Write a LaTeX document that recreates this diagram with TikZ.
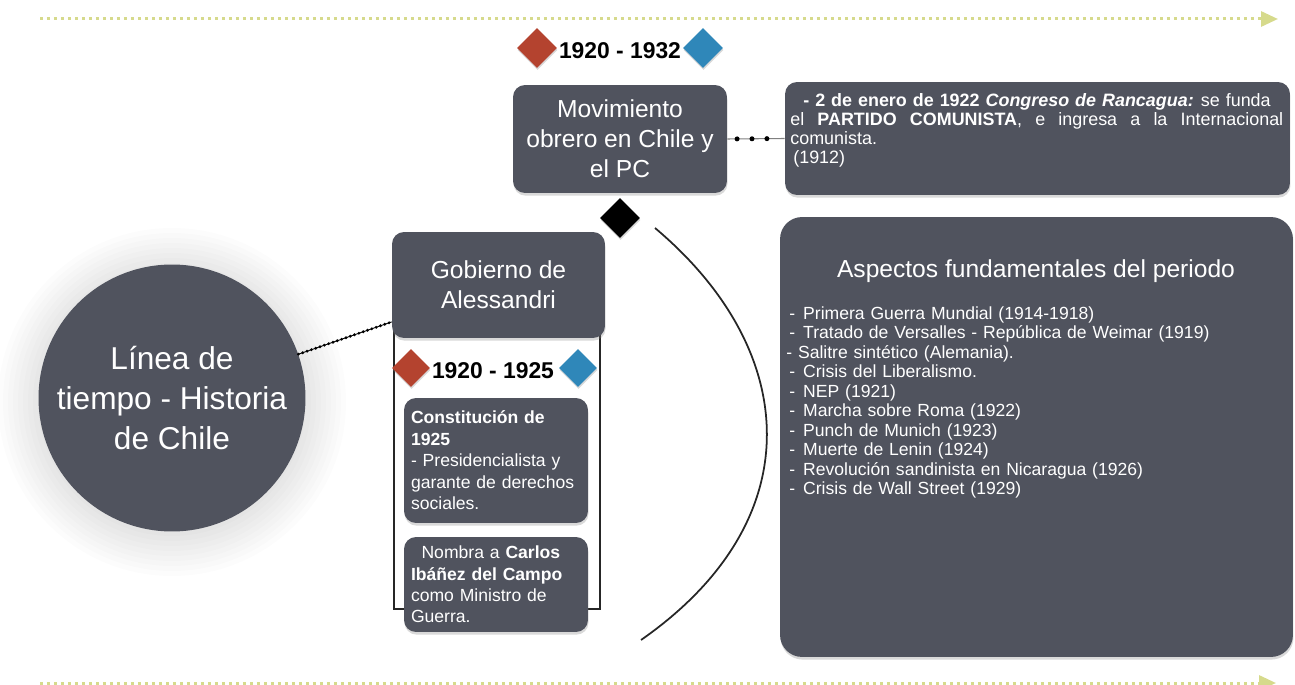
\documentclass[tikz,border=0pt]{standalone}
\usepackage{fontspec}
\setmainfont{Liberation Sans}
\usetikzlibrary{shapes.geometric,arrows.meta,shadows}

\definecolor{slate}{RGB}{80,83,94}
\definecolor{rustred}{RGB}{180,67,47}
\definecolor{steelblue}{RGB}{47,135,185}
\definecolor{olivedot}{RGB}{214,218,140}

\newcommand{\aspitem}[1]{\makebox[9.6pt][l]{\hspace{1.7pt}-}#1}

\tikzset{
  darkbox/.style={fill=slate, rounded corners=0.24cm, text=white,
    drop shadow={shadow xshift=0.3pt, shadow yshift=-1.5pt, opacity=0.3}},
  gem/.style={diamond, minimum size=0.8cm, inner sep=0pt,
    drop shadow={shadow xshift=0.3pt, shadow yshift=-1.2pt, opacity=0.3}},
  yearlabel/.style={font=\fontsize{13}{15}\selectfont\bfseries},
  timeline/.style={olivedot, line width=0.06cm, dash pattern=on 0.06cm off 0.08cm,
    -{Triangle[length=0.34cm,width=0.3cm]}},
  dotmark/.style={circle, fill=black, inner sep=0pt, minimum size=0.1cm},
  beadline/.style={line width=0.5pt,
    postaction={draw, line width=1.8pt, line cap=round, dash pattern=on 0pt off 2.6pt}},
}

\begin{document}
\begin{tikzpicture}[x=0.02cm, y=-0.02cm]
  \useasboundingbox (0,0) rectangle (1295,685);
  % soft glow round the circle
  \foreach \k in {1,...,9} {
    \pgfmathsetmacro\gr{(129+5*\k)*0.02}
    \fill[black, opacity=0.01] (172,402) circle[radius=\gr cm];
  }
  % timelines
  \coordinate (topStart) at (40,19);
  \coordinate (topEnd)   at (1278,19);
  \coordinate (botStart) at (40,683);
  \coordinate (botEnd)   at (1276,683);
  \draw[timeline] (topStart) -- (topEnd);
  \draw[timeline] (botStart) -- (botEnd);
  % frame behind the Alessandri boxes
  \draw[black!85, line width=0.8pt] (394,300) rectangle (600,609);

  \node[circle, fill=slate, minimum size=5.16cm, text=white, align=center,
        font=\fontsize{18}{22.7}\selectfont] (hist) at (172,398)
        {Línea de\\tiempo - Historia\\de Chile};

  % 1920 - 1932
  \node[gem, fill=rustred]   (red1)  at (537,48) {};
  \node[gem, fill=steelblue] (blue1) at (703,48) {};
  \node[yearlabel] (year1) at (620,51) {1920 - 1932};
  \node[darkbox, minimum width=4.28cm, minimum height=2.16cm, align=center,
        font=\fontsize{14}{17}\selectfont] (mov) at (620,139)
        {Movimiento\\obrero en Chile y\\el PC};
  \node[darkbox, minimum width=10.1cm, minimum height=2.26cm] (ev) at (1037.5,138.5) {};
  \node[anchor=north west, inner sep=0pt, text width=9.86cm, align=left, text=white,
        font=\fontsize{10.2}{10.8}\selectfont] (evtext) at (790,93)
        {\hspace*{7.4pt}\textbf{- 2 de enero de 1922 \textit{Congreso de Rancagua:}}\hspace{-1pt} se funda\\
         \makebox[9.86cm][l]{el\hfill\textbf{PARTIDO}\hfill\textbf{COMUNISTA},\hfill e\hfill ingresa\hfill a\hfill la\hfill Internacional}\\
         comunista.\\
         \hspace*{1.7pt}(1912)};
  \node[gem, fill=black] (joint) at (620,218) {};

  % Alessandri
  \node[darkbox, minimum width=4.26cm, minimum height=2.12cm, align=center,
        font=\fontsize{14}{17}\selectfont] (gob) at (498.5,285)
        {Gobierno de\\Alessandri};
  \node[gem, minimum size=0.76cm, fill=rustred]   (red2)  at (411,368) {};
  \node[gem, minimum size=0.76cm, fill=steelblue] (blue2) at (578,368) {};
  \node[yearlabel] (year2) at (493,371) {1920 - 1925};
  \node[darkbox, minimum width=3.68cm, minimum height=2.5cm, inner xsep=0.14cm,
        text width=3.4cm, align=left, font=\fontsize{10}{12.2}\selectfont] (const) at (496,460.5)
        {\textbf{Constitución de}\\\textbf{1925}\\- Presidencialista y\\garante de derechos\\sociales.};
  \node[darkbox, minimum width=3.68cm, minimum height=1.9cm, inner xsep=0.14cm,
        text width=3.4cm, align=left, font=\fontsize{10}{12.2}\selectfont] (nom) at (496,584.5)
        {\hspace*{6pt}Nombra a \textbf{Carlos}\\\textbf{Ibáñez del Campo}\\como Ministro de\\Guerra.};

  % aspectos
  \node[darkbox, rounded corners=0.44cm, minimum width=10.26cm, minimum height=8.8cm] (asp) at (1036.5,437) {};
  \node[text=white, font=\fontsize{14}{17}\selectfont] (asptitle) at (1036,271)
        {Aspectos fundamentales del periodo};
  \node[anchor=north west, inner sep=0pt, text width=9.8cm, align=left, text=white,
        font=\fontsize{10}{11.1}\selectfont] (asplist) at (786,306)
        {\aspitem{Primera Guerra Mundial (1914-1918)}\\
         \aspitem{Tratado de Versalles - República de Weimar (1919)}\\
         - Salitre sintético (Alemania).\\
         \aspitem{Crisis del Liberalismo.}\\
         \aspitem{NEP (1921)}\\
         \aspitem{Marcha sobre Roma (1922)}\\
         \aspitem{Punch de Munich (1923)}\\
         \aspitem{Muerte de Lenin (1924)}\\
         \aspitem{Revolución sandinista en Nicaragua (1926)}\\
         \aspitem{Crisis de Wall Street (1929)}};

  % connectors
  \draw[gray, line width=0.6pt] (mov.east) -- (ev.west)
        node[pos=0.17, dotmark] (d1) {}
        node[pos=0.43, dotmark] (d2) {}
        node[pos=0.69, dotmark] (d3) {};
  \draw[beadline] (hist) -- (gob);
  \coordinate (arcTop) at (655,228);
  \coordinate (arcBot) at (641,640);
  \draw[black!85, line width=1pt] (arcTop) .. controls (800,350) and (813,520) .. (arcBot);
\end{tikzpicture}
\end{document}
